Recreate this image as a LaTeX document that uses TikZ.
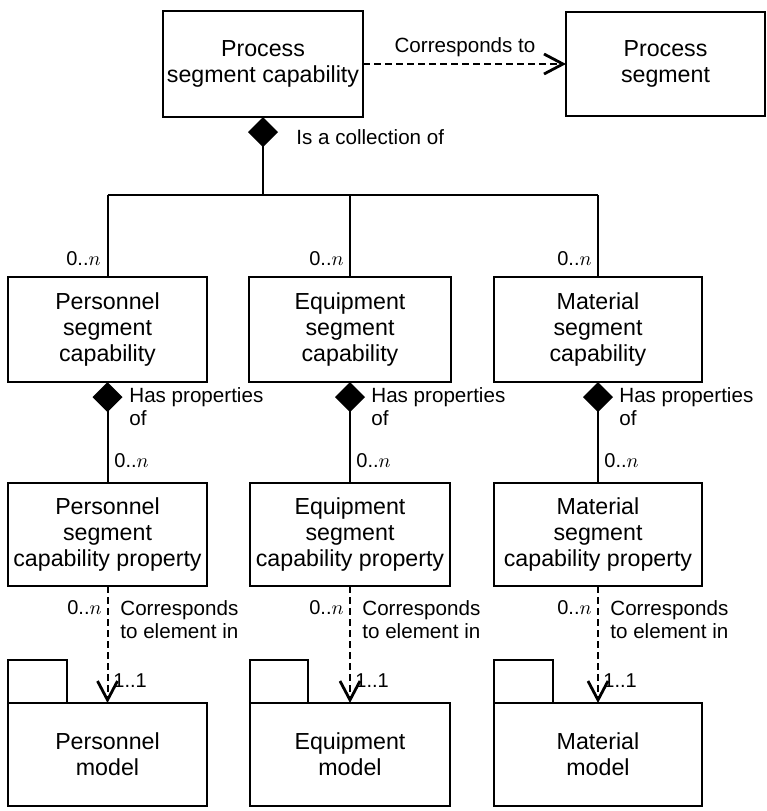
\documentclass[tikz,border=0pt]{standalone}
\usepackage{fontspec}
\setmainfont{Liberation Sans}
\usetikzlibrary{arrows.meta}

\tikzset{
  clase/.style={draw, line width=1.2pt, outer sep=0pt, inner sep=0pt, align=center,
    font=\fontsize{11.6}{13}\selectfont},
  rotulo/.style={inner sep=0pt, align=left, font=\fontsize{10.3}{11.5}\selectfont},
  mult/.style={inner sep=0pt, font=\fontsize{10}{12}\selectfont},
  agrega/.style={line width=1pt, {Diamond[length=15pt,width=15pt]}-},
  depende/.style={line width=1pt, dash pattern=on 3.5pt off 2pt,
    -{Straight Barb[length=9.5pt,width=10pt,line width=1.4pt]}},
}

\begin{document}
\begin{tikzpicture}[x=0.5pt,y=-0.5pt]
\useasboundingbox (0,0) rectangle (767,811);
% Proceso
\node[clase, minimum width=100pt, minimum height=53pt] (psc) at (263,64) {Process\\segment capability};
\node[clase, minimum width=99.5pt, minimum height=52pt] (ps) at (665.5,64) {Process\\segment};
\draw[depende] (psc.east) -- (ps.west);
\node[rotulo] (lblps) at (465,47) {Corresponds to};
% Coleccion
\coordinate (bus) at (263,195);
\draw[agrega] (psc.south) -- (bus);
\node[rotulo, anchor=west] (lblcol) at (296,137) {Is a collection of};
% Capacidades de segmento
\node[clase, minimum width=99.5pt, minimum height=52.5pt] (pers) at (107.5,329.5) {Personnel\\segment\\capability};
\node[clase, minimum width=101pt, minimum height=52.5pt] (equip) at (350,329.5) {Equipment\\segment\\capability};
\node[clase, minimum width=104pt, minimum height=52.5pt] (mat) at (598,329.5) {Material\\segment\\capability};
\draw[line width=1pt] (bus -| pers.north) -- (bus -| mat.north);
\draw[line width=1pt] (bus -| pers.north) -- (pers.north);
\draw[line width=1pt] (bus -| equip.north) -- (equip.north);
\draw[line width=1pt] (bus -| mat.north) -- (mat.north);
\node[mult, anchor=east] (m1) at (101,259) {0..$n$};
\node[mult, anchor=east] (m2) at (344,259) {0..$n$};
\node[mult, anchor=east] (m3) at (592,259) {0..$n$};
% Propiedades
\node[clase, minimum width=99.5pt, minimum height=51.5pt] (persp) at (107.5,534.5) {Personnel\\segment\\capability property};
\node[clase, minimum width=100pt, minimum height=51.5pt] (equipp) at (350,534.5) {Equipment\\segment\\capability property};
\node[clase, minimum width=104pt, minimum height=51.5pt] (matp) at (598,534.5) {Material\\segment\\capability property};
\draw[agrega] (pers.south) -- (persp.north);
\draw[agrega] (equip.south) -- (equipp.north);
\draw[agrega] (mat.south) -- (matp.north);
\node[rotulo, anchor=west] (h1) at (129,407) {Has properties\\of};
\node[rotulo, anchor=west] (h2) at (371,407) {Has properties\\of};
\node[rotulo, anchor=west] (h3) at (619,407) {Has properties\\of};
\node[mult, anchor=west] (m4) at (114,461) {0..$n$};
\node[mult, anchor=west] (m5) at (356,461) {0..$n$};
\node[mult, anchor=west] (m6) at (604,461) {0..$n$};
% Modelos
\node[clase, minimum width=99.5pt, minimum height=51.5pt] (persm) at (107.5,754.5) {Personnel\\model};
\node[clase, minimum width=100pt, minimum height=51.5pt] (equipm) at (350,754.5) {Equipment\\model};
\node[clase, minimum width=104pt, minimum height=51.5pt] (matm) at (598,754.5) {Material\\model};
\draw[line width=1.2pt] (persm.north west) rectangle ++(59,-43);
\draw[line width=1.2pt] (equipm.north west) rectangle ++(58,-43);
\draw[line width=1.2pt] (matm.north west) rectangle ++(59,-43);
\draw[depende] (persp.south) -- (persm.north);
\draw[depende] (equipp.south) -- (equipm.north);
\draw[depende] (matp.south) -- (matm.north);
\node[mult, anchor=east] (m7) at (102,608) {0..$n$};
\node[mult, anchor=east] (m8) at (344,608) {0..$n$};
\node[mult, anchor=east] (m9) at (592,608) {0..$n$};
\node[rotulo, anchor=west] (c1) at (120,620) {Corresponds\\to element in};
\node[rotulo, anchor=west] (c2) at (362,620) {Corresponds\\to element in};
\node[rotulo, anchor=west] (c3) at (610,620) {Corresponds\\to element in};
\node[mult, anchor=west] (u1) at (113,681) {1..1};
\node[mult, anchor=west] (u2) at (355,681) {1..1};
\node[mult, anchor=west] (u3) at (603,681) {1..1};
\end{tikzpicture}
\end{document}
